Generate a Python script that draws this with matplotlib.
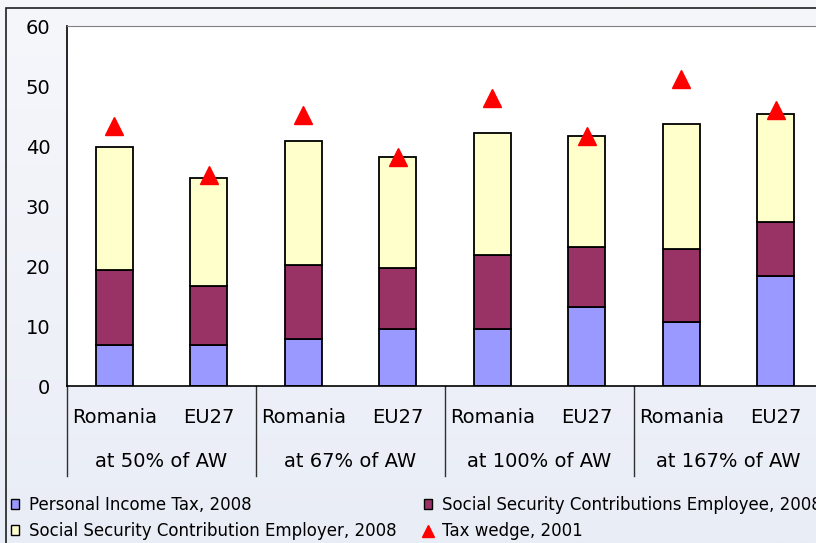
import numpy as np
import matplotlib
matplotlib.use('Agg')
import matplotlib.pyplot as plt
from matplotlib.patches import Patch, Rectangle
from matplotlib.lines import Line2D
import matplotlib.transforms as mtransforms

# datos
countries = ['Romania', 'EU27'] * 4
groups = ['at 50% of AW', 'at 67% of AW', 'at 100% of AW', 'at 167% of AW']
pit = [6.8, 6.8, 7.9, 9.5, 9.5, 13.1, 10.7, 18.3]
ssc_employee = [12.5, 9.9, 12.3, 10.1, 12.3, 10.1, 12.2, 9.0]
ssc_employer = [20.6, 17.9, 20.7, 18.6, 20.4, 18.5, 20.7, 18.1]
tax_wedge_2001 = [43.4, 35.2, 45.2, 38.2, 48.0, 41.7, 51.2, 46.0]

labels = ['Personal Income Tax, 2008',
          'Social Security Contributions Employee, 2008',
          'Social Security Contribution Employer, 2008',
          'Tax wedge, 2001']
colors = ['#9999ff', '#993366', '#ffffcc', '#ff0000']

plt.rcParams['font.family'] = 'DejaVu Sans'

W, H = 816, 543
fig = plt.figure(figsize=(W / 100, H / 100), dpi=100)

# fondo con degradado
bg = fig.add_axes([0, 0, 1, 1], zorder=-10)
grad = np.linspace(0, 1, 256).reshape(-1, 1)
bg.imshow(grad, aspect='auto', extent=[0, 1, 0, 1],
          cmap=matplotlib.colors.LinearSegmentedColormap.from_list('g', ['#f6f7fb', '#e9edf6']))
bg.set_xlim(0, 1)
bg.set_ylim(0, 1)
bg.axis('off')
fig.patches.append(Rectangle((6 / W, -0.05), 1.0, 1 - 8 / H + 0.05, transform=fig.transFigure,
                             fill=False, edgecolor='#202020', lw=1.2, zorder=-5))

ax = fig.add_axes([67 / W, 1 - 386 / H, (823 - 67) / W, (386 - 26) / H])
ax.set_facecolor('white')

x = np.arange(len(countries))
bw = 0.39
b1 = np.array(pit)
b2 = b1 + np.array(ssc_employee)
ax.bar(x, pit, bw, color=colors[0], edgecolor='black', lw=1.3, zorder=2)
ax.bar(x, ssc_employee, bw, bottom=b1, color=colors[1], edgecolor='black', lw=1.3, zorder=2)
ax.bar(x, ssc_employer, bw, bottom=b2, color=colors[2], edgecolor='black', lw=1.3, zorder=2)
ax.plot(x, tax_wedge_2001, ls='none', marker='^', ms=12.5, color=colors[3], zorder=3)

ax.set_xlim(-0.5, len(countries) - 0.5)
ax.set_ylim(0, 60)
ax.set_yticks(range(0, 61, 10))
ax.tick_params(axis='y', length=0, pad=12, labelsize=14)
ax.set_xticks(x)
ax.set_xticklabels(countries, fontsize=14)
ax.tick_params(axis='x', length=0, pad=16)

for s in ['left', 'bottom']:
    ax.spines[s].set_color('black')
    ax.spines[s].set_linewidth(1.2)
ax.spines['top'].set_color('#808080')
ax.spines['right'].set_visible(False)

# separadores y etiquetas de grupo
trans = mtransforms.blended_transform_factory(ax.transData, ax.transAxes)
for i, g in enumerate(groups):
    ax.plot([2 * i - 0.5, 2 * i - 0.5], [0, -0.25], color='#303030', lw=1,
            transform=trans, clip_on=False)
    ax.text(2 * i + 0.5, -0.211, g, transform=trans, ha='center', va='center', fontsize=14)

# leyenda
h = [Patch(facecolor=colors[0], edgecolor='black'),
     Patch(facecolor=colors[1], edgecolor='black'),
     Patch(facecolor=colors[2], edgecolor='black'),
     Line2D([], [], ls='none', marker='^', ms=9, color=colors[3])]
kw = dict(loc='upper left', frameon=False, fontsize=12, borderpad=0, borderaxespad=0,
          handlelength=0.5, handleheight=0.5, handletextpad=0.6, labelspacing=0.48)
fig.legend([h[0], h[2]], [labels[0], labels[2]], bbox_to_anchor=(11 / W, 1 - 496 / H), **kw)
fig.legend([h[1], h[3]], [labels[1], labels[3]], bbox_to_anchor=(424 / W, 1 - 496 / H), **kw)

plt.savefig('out.png', dpi=100)
